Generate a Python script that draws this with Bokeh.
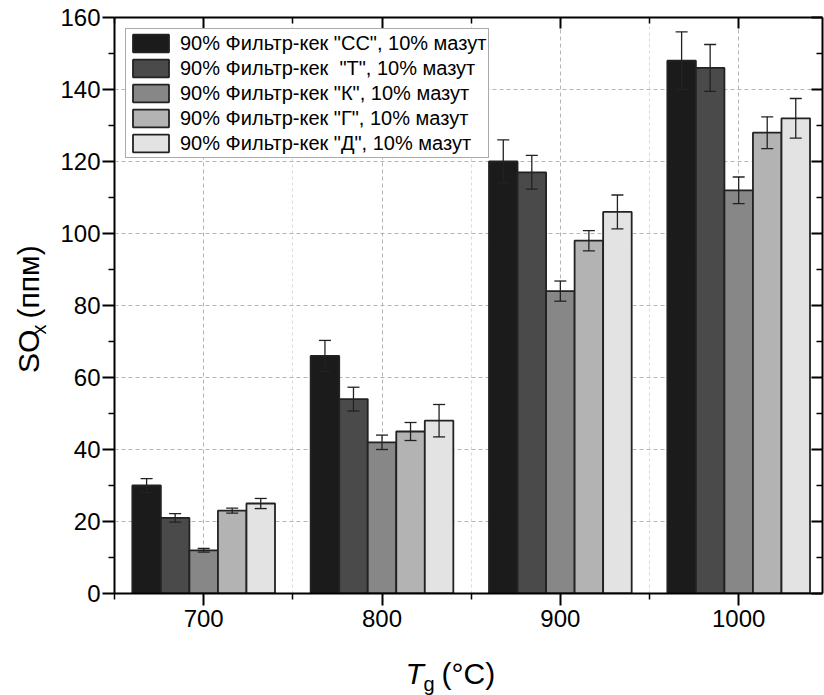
from math import pi
from bokeh.plotting import figure
from bokeh.layouts import row, column
from bokeh.models import (ColumnDataSource, FixedTicker, LinearAxis, Whisker,
                          TeeHead, Label, Range1d)
from bokeh.embed import file_html
from bokeh.resources import INLINE

# ---------------- data ----------------
temps = [700, 800, 900, 1000]
series_names = [
    '90% Фильтр-кек "СС", 10% мазут',
    '90% Фильтр-кек  "Т", 10% мазут',
    '90% Фильтр-кек "К", 10% мазут',
    '90% Фильтр-кек "Г", 10% мазут',
    '90% Фильтр-кек "Д", 10% мазут',
]
sox_cc = [30, 66, 120, 148]
sox_t = [21, 54, 117, 146]
sox_k = [12, 42, 84, 112]
sox_g = [23, 45, 98, 128]
sox_d = [25, 48, 106, 132]
err_cc = [1.9, 4.3, 6.0, 8.0]
err_t = [1.2, 3.3, 4.7, 6.5]
err_k = [0.5, 2.0, 2.8, 3.7]
err_g = [0.7, 2.5, 2.8, 4.4]
err_d = [1.4, 4.5, 4.7, 5.5]
y_ticks = [0, 20, 40, 60, 80, 100, 120, 140, 160]
y_minor = [10, 30, 50, 70, 90, 110, 130, 150]
x_ticks = [700, 800, 900, 1000]
x_minor = [650, 750, 850, 950, 1050]

values = [sox_cc, sox_t, sox_k, sox_g, sox_d]
errors = [err_cc, err_t, err_k, err_g, err_d]
colors = ["#1b1b1b", "#4a4a4a", "#878787", "#b3b3b3", "#e3e3e3"]
bar_w = 16
offsets = [-32, -16, 0, 16, 32]

FONT = "Liberation Sans"

# ---------------- main plot ----------------
YLAB_W = 56
MAIN_W = 824 - YLAB_W
MAIN_H = 645
XL_H = 50

X0, X1 = 650, 1047
p = figure(width=MAIN_W, height=MAIN_H, x_range=Range1d(X0, X1),
           y_range=Range1d(0, 160), title_location=None,
           output_backend="svg", toolbar_location=None,
           min_border_left=58, min_border_top=17, min_border_right=2,
           min_border_bottom=52)
p.outline_line_color = None
p.background_fill_color = "white"

for name, vals, errs, col, off in zip(series_names, values, errors, colors, offsets):
    xs = [t + off for t in temps]
    src = ColumnDataSource(dict(x=xs, top=vals,
                                upper=[v + e for v, e in zip(vals, errs)],
                                lower=[v - e for v, e in zip(vals, errs)]))
    p.vbar(x="x", top="top", bottom=0, width=bar_w, source=src,
           fill_color=col, line_color="#222222", line_width=1.8,
           legend_label=name)
    w = Whisker(source=src, base="x", upper="upper", lower="lower",
                line_color="#222222", line_width=1.3,
                upper_head=TeeHead(size=12, line_color="#222222", line_width=1.3),
                lower_head=TeeHead(size=12, line_color="#222222", line_width=1.3),
                level="overlay")
    p.add_layout(w)

xt = FixedTicker(ticks=x_ticks, minor_ticks=x_minor)
yt = FixedTicker(ticks=y_ticks, minor_ticks=y_minor)

for ax in (p.xaxis[0], p.yaxis[0]):
    ax.axis_line_width = 2
    ax.axis_line_color = "black"
    ax.major_tick_line_width = 2
    ax.minor_tick_line_width = 1.5
    ax.major_tick_in = 0
    ax.minor_tick_in = 0
    ax.major_tick_out = 12
    ax.minor_tick_out = 6
    ax.major_label_text_font = FONT
    ax.major_label_text_font_size = "24px"
    ax.major_label_text_color = "black"
p.xaxis[0].ticker = xt
p.yaxis[0].ticker = yt
p.xaxis[0].major_label_standoff = 4
p.yaxis[0].major_label_standoff = 2

top = LinearAxis(ticker=xt)
right = LinearAxis(ticker=yt)
for ax in (top, right):
    ax.axis_line_width = 2
    ax.axis_line_color = "black"
    ax.major_tick_line_width = 2
    ax.minor_tick_line_width = 1.5
    ax.major_tick_in = 11
    ax.major_tick_out = 0
    ax.minor_tick_in = 6
    ax.minor_tick_out = 0
    ax.major_label_text_font_size = "0px"
    ax.major_label_text_color = None
    ax.major_label_standoff = 0
p.add_layout(top, "above")
p.add_layout(right, "right")

p.xgrid.ticker = xt
p.ygrid.ticker = yt
p.xgrid.grid_line_color = "#b5b5b5"
p.xgrid.grid_line_dash = "4 3"
p.xgrid.minor_grid_line_color = "#dadada"
p.xgrid.minor_grid_line_dash = "3 3"
p.ygrid.grid_line_color = "#b5b5b5"
p.ygrid.grid_line_dash = "4 3"

lg = p.legend[0]
lg.location = "top_left"
lg.margin = 11
lg.label_text_font = FONT
lg.label_text_font_size = "20px"
lg.label_text_color = "black"
lg.glyph_width = 45
lg.glyph_height = 22
lg.label_height = 24
lg.spacing = 1
lg.padding = 2
lg.label_standoff = 7
lg.border_line_color = "#555555"
lg.border_line_width = 1.5
lg.background_fill_alpha = 1.0


def blank_fig(w, h):
    f = figure(width=w, height=h, x_range=Range1d(0, w), y_range=Range1d(0, h),
               output_backend="svg", toolbar_location=None, title_location=None,
               x_axis_location=None, y_axis_location=None,
               min_border=0, min_border_left=0, min_border_right=0,
               min_border_top=0, min_border_bottom=0)
    f.xgrid.visible = False
    f.ygrid.visible = False
    f.outline_line_color = None
    f.background_fill_color = None
    f.border_fill_color = None
    return f


# ---------------- y-axis title ----------------
yl = blank_fig(YLAB_W, MAIN_H)
yl.add_layout(Label(x=28, y=MAIN_H - 398, text="SO", angle=pi / 2, text_font=FONT,
                    text_font_size="30px", text_color="black",
                    text_baseline="alphabetic"))
yl.add_layout(Label(x=38, y=MAIN_H - 355, text="x", angle=pi / 2, text_font=FONT,
                    text_font_size="20px", text_color="black",
                    text_baseline="alphabetic"))
yl.add_layout(Label(x=28, y=MAIN_H - 337, text="(ппм)", angle=pi / 2, text_font=FONT,
                    text_font_size="30px", text_color="black",
                    text_baseline="alphabetic"))

# ---------------- x-axis title ----------------
xl = blank_fig(824, XL_H)
xl.add_layout(Label(x=405, y=22, text="T", text_font=FONT,
                    text_font_style="italic", text_font_size="30px",
                    text_color="black", text_baseline="alphabetic"))
xl.add_layout(Label(x=423, y=12, text="g", text_font=FONT,
                    text_font_size="20px", text_color="black",
                    text_baseline="alphabetic"))
xl.add_layout(Label(x=441, y=22, text="(°C)", text_font=FONT,
                    text_font_size="30px", text_color="black",
                    text_baseline="alphabetic"))

layout = column(row(yl, p, spacing=0), xl, spacing=0)
open("out.html", "w").write(file_html(layout, INLINE))
